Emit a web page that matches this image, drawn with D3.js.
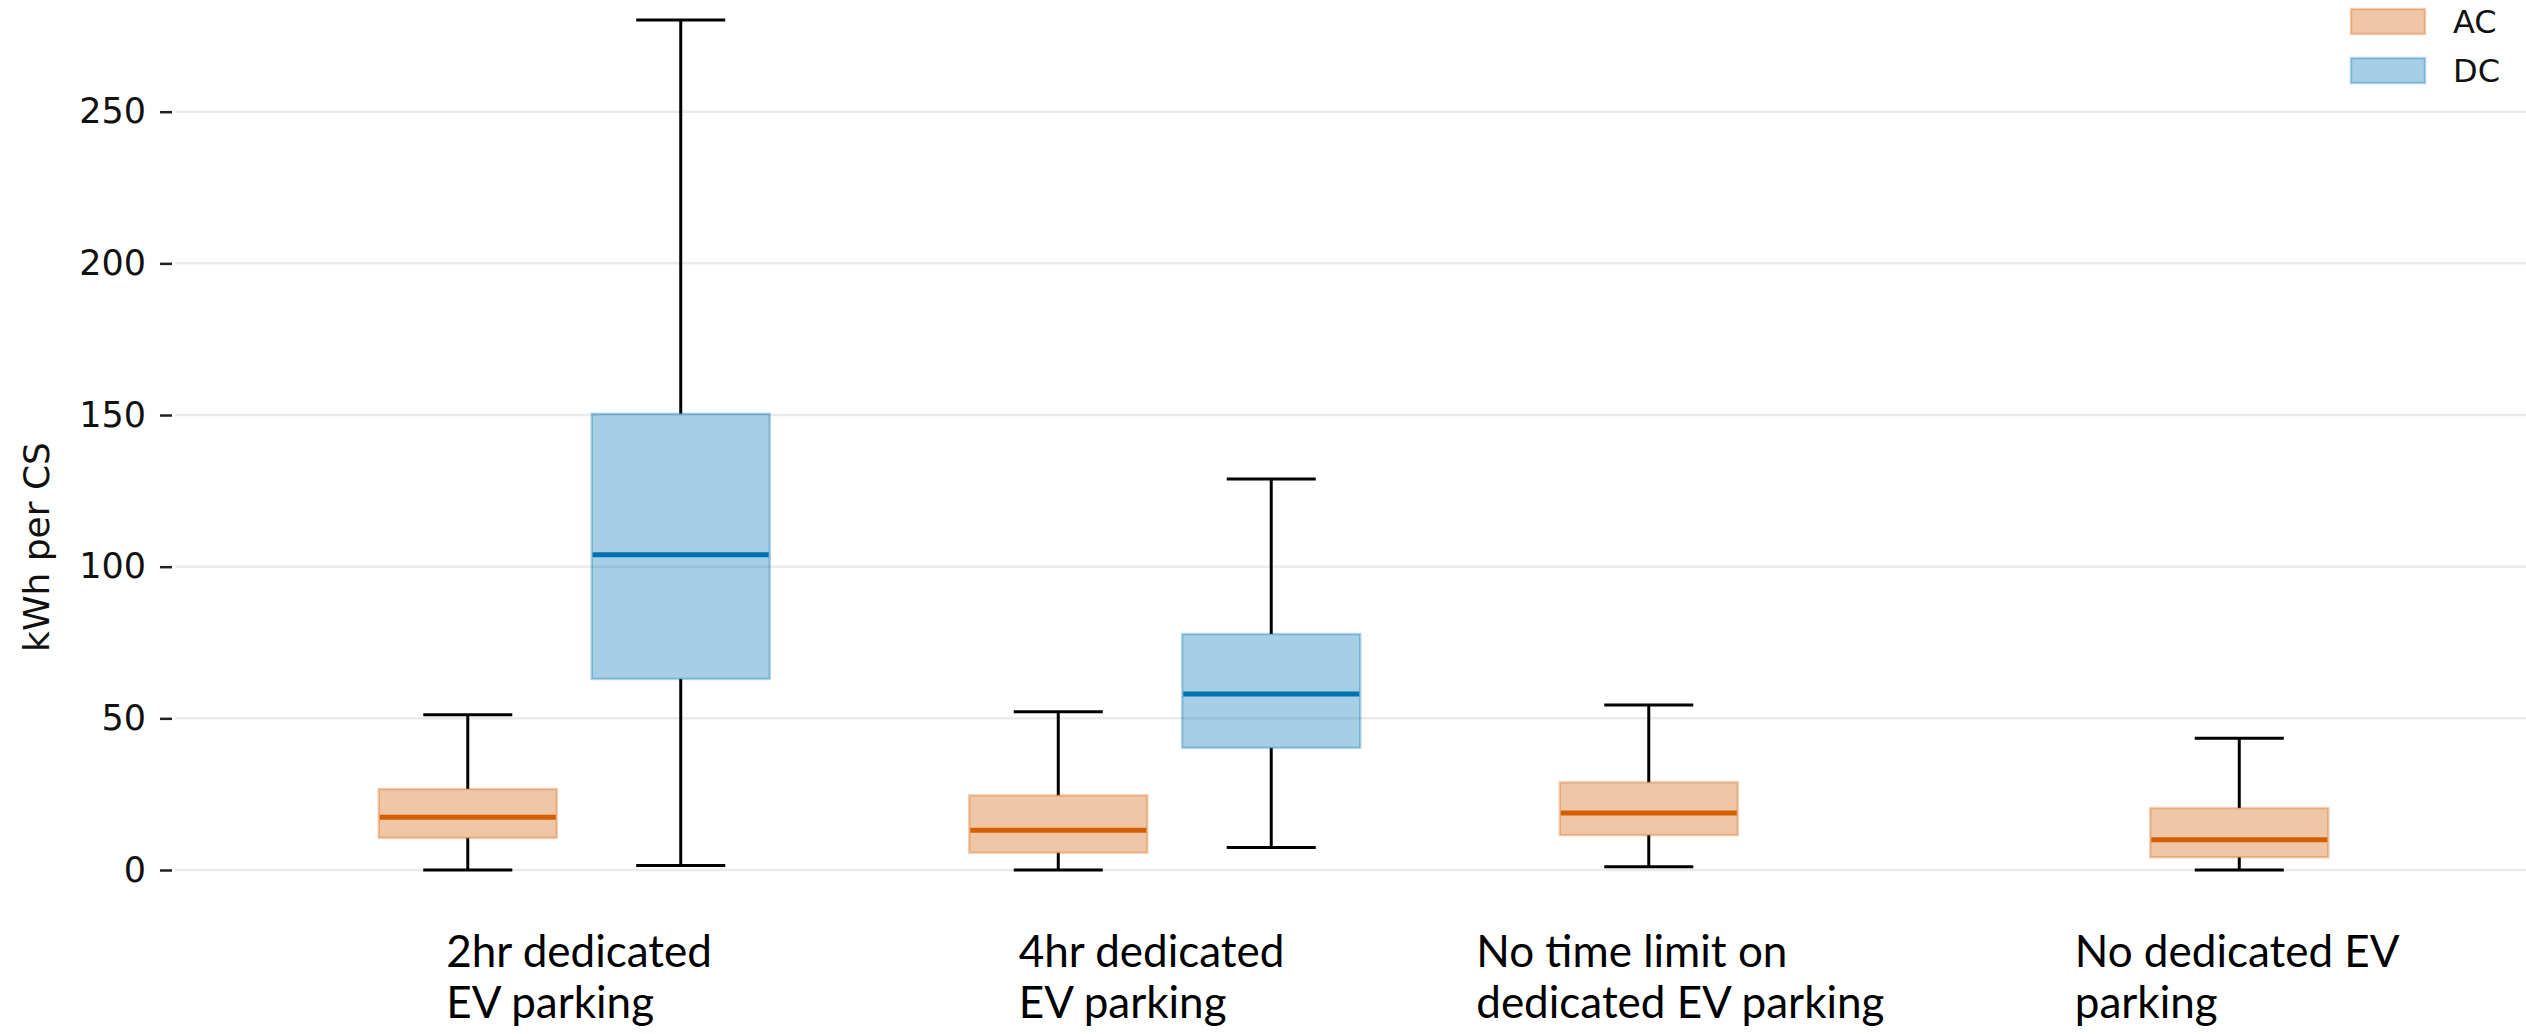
<!DOCTYPE html>
<html lang="en">
<head>
<meta charset="UTF-8">
<title>kWh per CS</title>
<script src="https://d3js.org/d3.v7.min.js"></script>
<style>
  body { margin: 0; background: #fff; }
  #chart { width: 2526px; height: 1034px; }
</style>
</head>
<body>
<div id="chart"></div>
<script>
const categories = [
    ["2hr dedicated", "EV parking"],
    ["4hr dedicated", "EV parking"],
    ["No time limit on", "dedicated EV parking"],
    ["No dedicated EV", "parking"]
];
const series = ["AC", "DC"];
const yTicks = [0, 50, 100, 150, 200, 250];

// box stats (null = no DC stations in that group)
const acLow  = [0, 0, 1.1, 0];
const acQ1   = [10.6, 5.7, 11.5, 4.2];
const acMed  = [17.4, 13.1, 18.8, 10.0];
const acQ3   = [26.7, 24.6, 28.9, 20.4];
const acHigh = [51.2, 52.2, 54.4, 43.4];

const dcLow  = [1.5, 7.4, null, null];
const dcQ1   = [63.0, 40.3, null, null];
const dcMed  = [103.9, 58.0, null, null];
const dcQ3   = [150.4, 77.8, null, null];
const dcHigh = [280.2, 128.9, null, null];

const width = 2526;
const height = 1034;
const colors = { AC: "#d55e00", DC: "#0072b2" };
const gridColor = "#ebebeb";
// the category labels are not centred under the groups
const labelNudge = [-128, -146, -279, -271];

const stats = { AC: [acLow, acQ1, acMed, acQ3, acHigh], DC: [dcLow, dcQ1, dcMed, dcQ3, dcHigh] };
const boxes = [];
series.forEach(s => {
    categories.forEach((c, i) => {
        const [lo, q1, med, q3, hi] = stats[s].map(a => a[i]);
        if (med == null) return;
        boxes.push({ s, i, lo, q1, med, q3, hi });
    });
});

const svg = d3.select("#chart").append("svg")
    .attr("width", width)
    .attr("height", height)
    .style("background", "#fff");

const y = d3.scaleLinear().domain([0, 250]).range([870, 111.7]);
const x = d3.scaleBand().domain(d3.range(categories.length)).range([279, 2641]);
const hue = d3.scaleBand().domain(series).range([-195.5, 195.5]).paddingInner(0.164);
const cx = d => x(d.i) + x.bandwidth() / 2 + hue(d.s) + hue.bandwidth() / 2;
const bw = hue.bandwidth();

// grid
svg.append("g").selectAll("line")
    .data(yTicks)
    .join("line")
    .attr("x1", 175).attr("x2", width)
    .attr("y1", d => y(d)).attr("y2", d => y(d))
    .attr("stroke", gridColor)
    .attr("stroke-width", 2.5);

// y axis
const yAxis = svg.append("g")
    .attr("transform", "translate(172,0)")
    .call(d3.axisLeft(y).tickValues(yTicks).tickSize(12).tickPadding(14));
yAxis.select(".domain").remove();
yAxis.selectAll(".tick line").attr("stroke", "#222").attr("stroke-width", 2.5);
yAxis.selectAll(".tick text")
    .attr("fill", "#111")
    .style("font-family", "DejaVu Sans")
    .style("font-size", "35px");

svg.append("text")
    .attr("transform", "translate(49,547) rotate(-90)")
    .attr("text-anchor", "middle")
    .style("font-family", "DejaVu Sans")
    .style("font-size", "36px")
    .attr("fill", "#111")
    .text("kWh per CS");

// boxes
const g = svg.append("g").selectAll("g")
    .data(boxes)
    .join("g");

g.append("line")
    .attr("x1", cx).attr("x2", cx)
    .attr("y1", d => y(d.q3)).attr("y2", d => y(d.hi))
    .attr("stroke", "#000").attr("stroke-width", 3);
g.append("line")
    .attr("x1", cx).attr("x2", cx)
    .attr("y1", d => y(d.q1)).attr("y2", d => y(d.lo))
    .attr("stroke", "#000").attr("stroke-width", 3);
g.selectAll(".cap")
    .data(d => [d.lo, d.hi].map(v => ({ v, c: cx(d) })))
    .join("line")
    .attr("class", "cap")
    .attr("x1", d => d.c - bw / 4).attr("x2", d => d.c + bw / 4)
    .attr("y1", d => y(d.v)).attr("y2", d => y(d.v))
    .attr("stroke", "#000").attr("stroke-width", 3);

g.append("rect")
    .attr("x", d => cx(d) - bw / 2)
    .attr("width", bw)
    .attr("y", d => y(d.q3))
    .attr("height", d => y(d.q1) - y(d.q3))
    .attr("fill", d => colors[d.s])
    .attr("fill-opacity", 0.35)
    .attr("stroke", d => colors[d.s])
    .attr("stroke-opacity", 0.3)
    .attr("stroke-width", 2.5);

g.append("line")
    .attr("x1", d => cx(d) - bw / 2 + 1).attr("x2", d => cx(d) + bw / 2 - 1)
    .attr("y1", d => y(d.med)).attr("y2", d => y(d.med))
    .attr("stroke", d => colors[d.s])
    .attr("stroke-width", 5);

// category labels
const labels = svg.append("g").selectAll("text")
    .data(categories)
    .join("text")
    .attr("x", (d, i) => x(i) + x.bandwidth() / 2 + labelNudge[i])
    .attr("y", 967)
    .style("font-family", "Lato")
    .style("font-size", "44px")
    .attr("fill", "#000");
labels.selectAll("tspan")
    .data(d => d)
    .join("tspan")
    .attr("x", function () { return d3.select(this.parentNode).attr("x"); })
    .attr("dy", (d, i) => i ? 51 : 0)
    .text(d => d);

// legend
const legend = svg.append("g").selectAll("g")
    .data(series)
    .join("g")
    .attr("transform", (d, i) => `translate(2351,${9 + i * 49})`);
legend.append("rect")
    .attr("width", 74).attr("height", 25)
    .attr("fill", d => colors[d]).attr("fill-opacity", 0.35)
    .attr("stroke", d => colors[d]).attr("stroke-opacity", 0.3)
    .attr("stroke-width", 2.5);
legend.append("text")
    .attr("x", 102).attr("y", 12.5)
    .attr("dominant-baseline", "central")
    .style("font-family", "DejaVu Sans")
    .style("font-size", "32px")
    .attr("fill", "#111")
    .text(d => d);
</script>
</body>
</html>
